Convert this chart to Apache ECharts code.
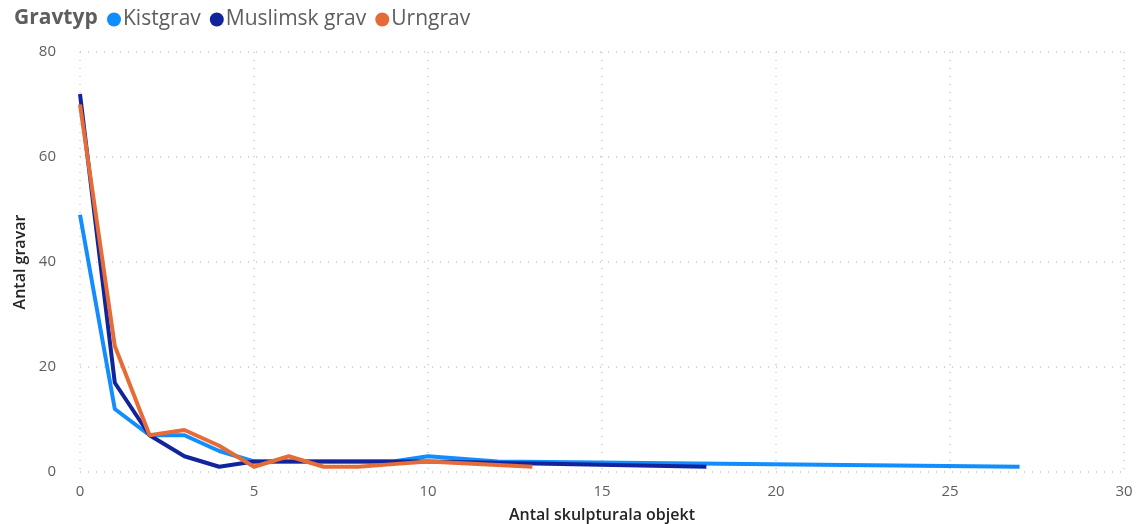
<!DOCTYPE html>
<html>
<head>
<meta charset="utf-8">
<script src="https://cdn.jsdelivr.net/npm/echarts@6/dist/echarts.min.js"></script>
<style>
  html, body { margin: 0; padding: 0; background: #fff; }
  #container { width: 1136px; height: 524px; }
</style>
</head>
<body>
<div id="container"></div>
<script>
// antal skulpturala objekt per grav -> antal gravar
const kistgravX = [0, 1, 2, 3, 4, 5, 6, 7, 8, 9, 10, 12, 27];
const kistgravY = [49, 12, 7, 7, 4, 2, 2, 2, 2, 2, 3, 2, 1];
const muslimskX = [0, 1, 2, 3, 4, 5, 6, 7, 8, 9, 10, 18];
const muslimskY = [72, 17, 7, 3, 1, 2, 2, 2, 2, 2, 2, 1];
const urngravX = [0, 1, 2, 3, 4, 5, 6, 7, 8, 9, 10, 13];
const urngravY = [70, 24, 7, 8, 5, 1, 3, 1, 1, 1.5, 2, 1];
const seriesNames = ['Kistgrav', 'Muslimsk grav', 'Urngrav'];
const colors = ['#118DFF', '#12239E', '#E66C37'];

function pairs(xs, ys) {
  return xs.map((x, i) => [x, ys[i]]);
}

const font = '"Open Sans", "Noto Sans", sans-serif';
let instance = echarts.init(document.getElementById('container'));

instance.setOption({
  color: colors,
  textStyle: { fontFamily: font },
  title: {
    text: 'Gravtyp',
    left: 9,
    top: 3,
    textStyle: { fontSize: 21, fontWeight: 'bold', color: '#605E5C', fontFamily: font }
  },
  legend: {
    data: seriesNames,
    left: 102,
    top: 4,
    icon: 'circle',
    itemWidth: 14,
    itemHeight: 14,
    itemGap: 9,
    textStyle: { fontSize: 21, color: '#605E5C', padding: [0, 0, 0, -3] }
  },
  grid: {
    left: 80,
    right: 12,
    top: 52,
    bottom: 52,
    outerBoundsMode: 'none'
  },
  xAxis: {
    type: 'value',
    min: 0,
    max: 30,
    interval: 5,
    name: 'Antal skulpturala objekt',
    nameLocation: 'middle',
    nameGap: 35,
    nameTextStyle: { fontSize: 16, fontWeight: 600, color: '#252423' },
    axisLine: { show: false },
    axisTick: { show: false },
    axisLabel: { fontSize: 15, color: '#605E5C', margin: 12 },
    splitLine: { show: true, lineStyle: { color: '#C8C6C4', type: [1, 7], width: 1.5 } }
  },
  yAxis: {
    type: 'value',
    min: 0,
    max: 80,
    interval: 20,
    name: 'Antal gravar',
    nameLocation: 'middle',
    nameGap: 52,
    nameTextStyle: { fontSize: 16, fontWeight: 600, color: '#252423' },
    axisLine: { show: false },
    axisTick: { show: false },
    axisLabel: { fontSize: 15, color: '#605E5C', margin: 24 },
    splitLine: { show: true, lineStyle: { color: '#C8C6C4', type: [1, 7], width: 1.5 } }
  },
  series: [
    {
      name: 'Kistgrav',
      type: 'line',
      showSymbol: false,
      lineStyle: { width: 4 },
      data: pairs(kistgravX, kistgravY)
    },
    {
      name: 'Muslimsk grav',
      type: 'line',
      showSymbol: false,
      lineStyle: { width: 4 },
      data: pairs(muslimskX, muslimskY)
    },
    {
      name: 'Urngrav',
      type: 'line',
      showSymbol: false,
      lineStyle: { width: 4 },
      data: pairs(urngravX, urngravY)
    }
  ]
});
</script>
</body>
</html>
